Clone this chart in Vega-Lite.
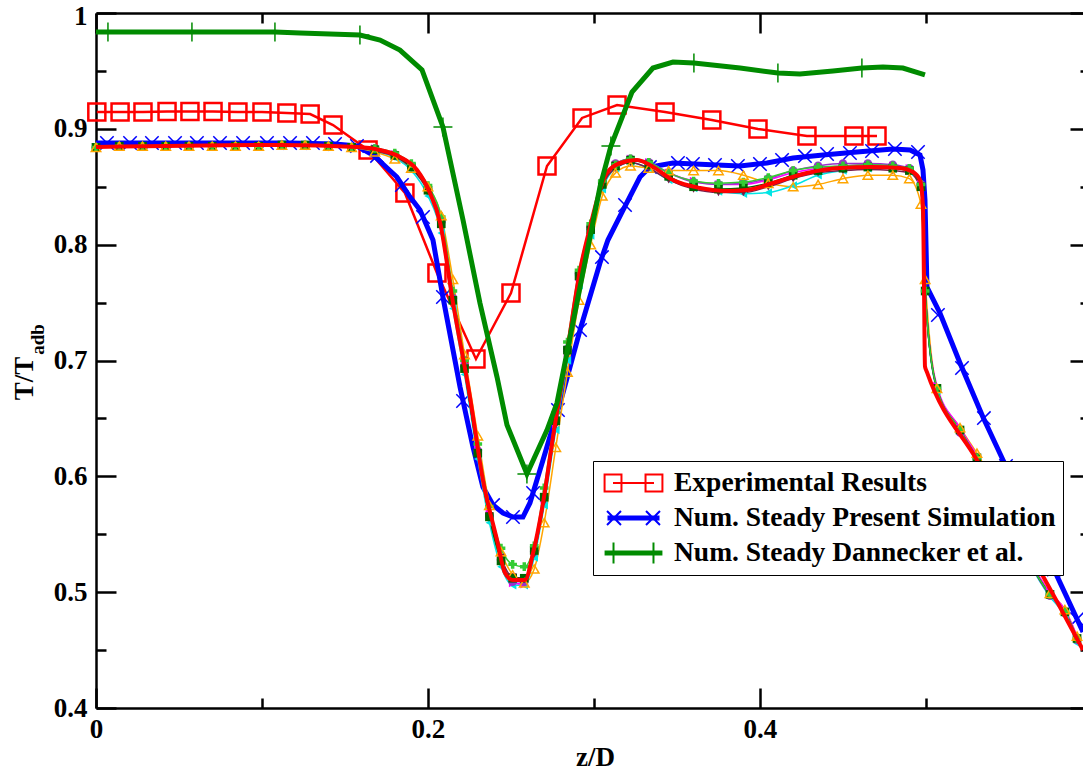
{
"$schema": "https://vega.github.io/schema/vega-lite/v6.json",
"width": 987, "height": 695,
"autosize": "none",
"padding": {"left": 96, "top": 13, "right": 0, "bottom": 65},
"background": "white",
"config": {"view": {"stroke": null}, "font": "Liberation Serif", "axis": {"grid": false}},
"datasets": {
"exp": [
{"series":"Experimental Results","x":0.0005,"y":0.9145},{"series":"Experimental Results","x":0.0145,"y":0.9145},{"series":"Experimental Results","x":0.0283,"y":0.9145},{"series":"Experimental Results","x":0.0428,"y":0.915},{"series":"Experimental Results","x":0.0566,"y":0.915},{"series":"Experimental Results","x":0.0705,"y":0.915},{"series":"Experimental Results","x":0.0855,"y":0.9145},{"series":"Experimental Results","x":0.1,"y":0.9145},{"series":"Experimental Results","x":0.115,"y":0.9137},{"series":"Experimental Results","x":0.129,"y":0.9128},{"series":"Experimental Results","x":0.1428,"y":0.9033},{"series":"Experimental Results","x":0.1639,"y":0.8817},{"series":"Experimental Results","x":0.1861,"y":0.8446},{"series":"Experimental Results","x":0.2054,"y":0.7755},{"series":"Experimental Results","x":0.2289,"y":0.7013},{"series":"Experimental Results","x":0.25,"y":0.7583},{"series":"Experimental Results","x":0.2717,"y":0.8679},{"series":"Experimental Results","x":0.2928,"y":0.9094},{"series":"Experimental Results","x":0.3139,"y":0.9206},{"series":"Experimental Results","x":0.3428,"y":0.9145},{"series":"Experimental Results","x":0.371,"y":0.9076},{"series":"Experimental Results","x":0.3988,"y":0.8999},{"series":"Experimental Results","x":0.4283,"y":0.8938},{"series":"Experimental Results","x":0.4566,"y":0.8938},{"series":"Experimental Results","x":0.4705,"y":0.8938}
],
"pres": [
{"x":0,"y":0.8878},{"x":0.1169,"y":0.8878},{"x":0.144,"y":0.8869},{"x":0.1572,"y":0.8852},{"x":0.1669,"y":0.8774},{"x":0.1813,"y":0.8584},{"x":0.1892,"y":0.8411},{"x":0.1952,"y":0.8299},{"x":0.203,"y":0.804},{"x":0.209,"y":0.7548},{"x":0.2193,"y":0.6771},{"x":0.2271,"y":0.6253},{"x":0.2331,"y":0.5908},{"x":0.2392,"y":0.5752},{"x":0.2452,"y":0.5683},{"x":0.2512,"y":0.5649},{"x":0.2572,"y":0.5649},{"x":0.2614,"y":0.577},{"x":0.2693,"y":0.6141},{"x":0.2813,"y":0.6719},{"x":0.2916,"y":0.7263},{"x":0.3036,"y":0.7842},{"x":0.3084,"y":0.804},{"x":0.3175,"y":0.8299},{"x":0.3277,"y":0.8584},{"x":0.3337,"y":0.867},{"x":0.3476,"y":0.8705},{"x":0.3741,"y":0.8688},{"x":0.388,"y":0.8679},{"x":0.4042,"y":0.8705},{"x":0.4199,"y":0.8748},{"x":0.438,"y":0.8774},{"x":0.4584,"y":0.88},{"x":0.4801,"y":0.8826},{"x":0.4904,"y":0.8817},{"x":0.4964,"y":0.8774},{"x":0.4982,"y":0.8645},{"x":0.4994,"y":0.8386},{"x":0.5006,"y":0.7634},{"x":0.5084,"y":0.741},{"x":0.5205,"y":0.6978},{"x":0.5343,"y":0.6512},{"x":0.5464,"y":0.6141},{"x":0.5946,"y":0.4656}
],
"presm": [
{"x":0.0066,"y":0.8878},{"x":0.0205,"y":0.8878},{"x":0.0337,"y":0.8878},{"x":0.0476,"y":0.8878},{"x":0.0608,"y":0.8878},{"x":0.0747,"y":0.8878},{"x":0.0886,"y":0.8878},{"x":0.103,"y":0.8878},{"x":0.1169,"y":0.8878},{"x":0.1307,"y":0.8878},{"x":0.144,"y":0.8869},{"x":0.1572,"y":0.8852},{"x":0.1693,"y":0.8766},{"x":0.1843,"y":0.8515},{"x":0.197,"y":0.8239},{"x":0.209,"y":0.7548},{"x":0.2211,"y":0.665},{"x":0.2392,"y":0.5752},{"x":0.2512,"y":0.5649},{"x":0.2633,"y":0.5856},{"x":0.2783,"y":0.6573},{"x":0.2916,"y":0.7263},{"x":0.3048,"y":0.7893},{"x":0.3187,"y":0.8342},{"x":0.3337,"y":0.867},{"x":0.3506,"y":0.8705},{"x":0.3596,"y":0.8696},{"x":0.3729,"y":0.8688},{"x":0.3867,"y":0.8679},{"x":0.4,"y":0.8696},{"x":0.4133,"y":0.8731},{"x":0.4271,"y":0.8765},{"x":0.4404,"y":0.8783},{"x":0.4542,"y":0.8791},{"x":0.4675,"y":0.8809},{"x":0.4813,"y":0.8826},{"x":0.4952,"y":0.88},{"x":0.5072,"y":0.7393},{"x":0.5217,"y":0.6935},{"x":0.5349,"y":0.6503},{"x":0.5482,"y":0.6089},{"x":0.5627,"y":0.5639},{"x":0.5771,"y":0.5195},{"x":0.591,"y":0.4767}
],
"dann": [
{"x":0,"y":0.9836},{"x":0.1078,"y":0.9836},{"x":0.1229,"y":0.9827},{"x":0.159,"y":0.981},{"x":0.1711,"y":0.9767},{"x":0.1831,"y":0.968},{"x":0.1964,"y":0.9508},{"x":0.209,"y":0.9016},{"x":0.2211,"y":0.8213},{"x":0.2313,"y":0.7496},{"x":0.2416,"y":0.6857},{"x":0.2476,"y":0.6443},{"x":0.2596,"y":0.602},{"x":0.2717,"y":0.64},{"x":0.2777,"y":0.6633},{"x":0.3036,"y":0.8498},{"x":0.3102,"y":0.8852},{"x":0.3229,"y":0.9318},{"x":0.3355,"y":0.9525},{"x":0.3476,"y":0.9577},{"x":0.3602,"y":0.9568},{"x":0.388,"y":0.9525},{"x":0.4108,"y":0.9482},{"x":0.4241,"y":0.9473},{"x":0.444,"y":0.9499},{"x":0.4614,"y":0.9525},{"x":0.4741,"y":0.9534},{"x":0.4861,"y":0.9525},{"x":0.4994,"y":0.9465}
],
"dannm": [
{"x":0.0072,"y":0.9836},{"x":0.0578,"y":0.9836},{"x":0.1078,"y":0.9836},{"x":0.159,"y":0.981},{"x":0.209,"y":0.9016},{"x":0.2596,"y":0.602},{"x":0.3102,"y":0.8852},{"x":0.3602,"y":0.9568},{"x":0.4108,"y":0.9482},{"x":0.4614,"y":0.9525}
],
"base": [
{"x":0,"y":0.8843},{"x":0.1108,"y":0.886},{"x":0.1572,"y":0.8843},{"x":0.1711,"y":0.8817},{"x":0.1831,"y":0.8757},{"x":0.1934,"y":0.8645},{"x":0.2012,"y":0.8446},{"x":0.2072,"y":0.8196},{"x":0.2151,"y":0.7496},{"x":0.2253,"y":0.6685},{"x":0.2331,"y":0.5968},{"x":0.2416,"y":0.545},{"x":0.2464,"y":0.5165},{"x":0.2512,"y":0.5105},{"x":0.2584,"y":0.5105},{"x":0.2633,"y":0.5338},{"x":0.2693,"y":0.577},{"x":0.2753,"y":0.634},{"x":0.2837,"y":0.7065},{"x":0.2916,"y":0.7781},{"x":0.2976,"y":0.815},{"x":0.3018,"y":0.8386},{"x":0.3078,"y":0.8619},{"x":0.3157,"y":0.8705},{"x":0.3259,"y":0.8731},{"x":0.3337,"y":0.8688},{"x":0.3476,"y":0.8558},{"x":0.3639,"y":0.8489},{"x":0.3801,"y":0.8463},{"x":0.3922,"y":0.8472},{"x":0.4078,"y":0.8532},{"x":0.4283,"y":0.8619},{"x":0.4482,"y":0.8662},{"x":0.4681,"y":0.867},{"x":0.4843,"y":0.8662},{"x":0.4922,"y":0.8627},{"x":0.4964,"y":0.8558},{"x":0.4982,"y":0.8325},{"x":0.4988,"y":0.7669},{"x":0.4994,"y":0.695},{"x":0.5006,"y":0.69},{"x":0.5307,"y":0.6141},{"x":0.5566,"y":0.5493},{"x":0.5807,"y":0.4872},{"x":0.5946,"y":0.45}
],
"oth": [
{"s":"o","x":0,"y":0.884},{"s":"o","x":0.014,"y":0.885},{"s":"o","x":0.028,"y":0.885},{"s":"o","x":0.042,"y":0.885},{"s":"o","x":0.056,"y":0.885},{"s":"o","x":0.07,"y":0.885},{"s":"o","x":0.084,"y":0.885},{"s":"o","x":0.098,"y":0.885},{"s":"o","x":0.112,"y":0.886},{"s":"o","x":0.126,"y":0.886},{"s":"o","x":0.14,"y":0.885},{"s":"o","x":0.154,"y":0.884},
{"s":"o","x":0.168,"y":0.880},{"s":"o","x":0.18,"y":0.874},{"s":"o","x":0.19,"y":0.866},{"s":"o","x":0.2,"y":0.85},{"s":"o","x":0.208,"y":0.825},{"s":"o","x":0.215,"y":0.77},{"s":"o","x":0.222,"y":0.705},{"s":"o","x":0.23,"y":0.635},{"s":"o","x":0.237,"y":0.575},{"s":"o","x":0.244,"y":0.535},{"s":"o","x":0.251,"y":0.515},{"s":"o","x":0.258,"y":0.508},{"s":"o","x":0.264,"y":0.52},{"s":"o","x":0.27,"y":0.56},{"s":"o","x":0.277,"y":0.625},{"s":"o","x":0.284,"y":0.69},{"s":"o","x":0.291,"y":0.752},{"s":"o","x":0.298,"y":0.80},{"s":"o","x":0.305,"y":0.842},{"s":"o","x":0.313,"y":0.862},{"s":"o","x":0.322,"y":0.868},{"s":"o","x":0.333,"y":0.866},{"s":"o","x":0.345,"y":0.864},{"s":"o","x":0.36,"y":0.864},{"s":"o","x":0.375,"y":0.864},{"s":"o","x":0.39,"y":0.86},{"s":"o","x":0.405,"y":0.853},{"s":"o","x":0.42,"y":0.85},{"s":"o","x":0.435,"y":0.852},{"s":"o","x":0.45,"y":0.857},{"s":"o","x":0.465,"y":0.86},{"s":"o","x":0.48,"y":0.86},{"s":"o","x":0.49,"y":0.857},{"s":"o","x":0.497,"y":0.835},{"s":"o","x":0.4995,"y":0.77},{"s":"o","x":0.5066,"y":0.676},{"s":"o","x":0.5205,"y":0.642},{"s":"o","x":0.5307,"y":0.62},{"s":"o","x":0.5747,"y":0.499},{"s":"o","x":0.5837,"y":0.485},{"s":"o","x":0.591,"y":0.462},
{"s":"c","x":0,"y":0.884},{"s":"c","x":0.014,"y":0.885},{"s":"c","x":0.028,"y":0.885},{"s":"c","x":0.042,"y":0.885},{"s":"c","x":0.056,"y":0.885},{"s":"c","x":0.07,"y":0.885},{"s":"c","x":0.084,"y":0.885},{"s":"c","x":0.098,"y":0.885},{"s":"c","x":0.112,"y":0.886},{"s":"c","x":0.126,"y":0.886},{"s":"c","x":0.14,"y":0.885},{"s":"c","x":0.154,"y":0.884},
{"s":"c","x":0.168,"y":0.881},{"s":"c","x":0.18,"y":0.875},{"s":"c","x":0.19,"y":0.864},{"s":"c","x":0.2,"y":0.842},{"s":"c","x":0.208,"y":0.81},{"s":"c","x":0.215,"y":0.745},{"s":"c","x":0.222,"y":0.688},{"s":"c","x":0.23,"y":0.615},{"s":"c","x":0.237,"y":0.56},{"s":"c","x":0.244,"y":0.522},{"s":"c","x":0.251,"y":0.506},{"s":"c","x":0.258,"y":0.506},{"s":"c","x":0.264,"y":0.53},{"s":"c","x":0.27,"y":0.575},{"s":"c","x":0.277,"y":0.64},{"s":"c","x":0.284,"y":0.70},{"s":"c","x":0.291,"y":0.765},{"s":"c","x":0.298,"y":0.808},{"s":"c","x":0.305,"y":0.848},{"s":"c","x":0.313,"y":0.866},{"s":"c","x":0.322,"y":0.871},{"s":"c","x":0.333,"y":0.866},{"s":"c","x":0.345,"y":0.856},{"s":"c","x":0.36,"y":0.849},{"s":"c","x":0.375,"y":0.846},{"s":"c","x":0.39,"y":0.844},{"s":"c","x":0.405,"y":0.845},{"s":"c","x":0.42,"y":0.851},{"s":"c","x":0.435,"y":0.86},{"s":"c","x":0.45,"y":0.864},{"s":"c","x":0.465,"y":0.866},{"s":"c","x":0.48,"y":0.866},{"s":"c","x":0.49,"y":0.863},{"s":"c","x":0.497,"y":0.85},{"s":"c","x":0.4995,"y":0.76},{"s":"c","x":0.5066,"y":0.674},{"s":"c","x":0.5205,"y":0.638},{"s":"c","x":0.5307,"y":0.614},{"s":"c","x":0.5747,"y":0.496},{"s":"c","x":0.5837,"y":0.48},{"s":"c","x":0.591,"y":0.456},
{"s":"m","x":0,"y":0.884},{"s":"m","x":0.014,"y":0.885},{"s":"m","x":0.028,"y":0.885},{"s":"m","x":0.042,"y":0.885},{"s":"m","x":0.056,"y":0.885},{"s":"m","x":0.07,"y":0.885},{"s":"m","x":0.084,"y":0.885},{"s":"m","x":0.098,"y":0.885},{"s":"m","x":0.112,"y":0.886},{"s":"m","x":0.126,"y":0.886},{"s":"m","x":0.14,"y":0.885},{"s":"m","x":0.154,"y":0.884},
{"s":"m","x":0.168,"y":0.883},{"s":"m","x":0.18,"y":0.878},{"s":"m","x":0.19,"y":0.869},{"s":"m","x":0.2,"y":0.85},{"s":"m","x":0.208,"y":0.822},{"s":"m","x":0.215,"y":0.756},{"s":"m","x":0.222,"y":0.697},{"s":"m","x":0.23,"y":0.624},{"s":"m","x":0.237,"y":0.568},{"s":"m","x":0.244,"y":0.528},{"s":"m","x":0.251,"y":0.508},{"s":"m","x":0.258,"y":0.507},{"s":"m","x":0.264,"y":0.535},{"s":"m","x":0.27,"y":0.58},{"s":"m","x":0.277,"y":0.645},{"s":"m","x":0.284,"y":0.707},{"s":"m","x":0.291,"y":0.772},{"s":"m","x":0.298,"y":0.813},{"s":"m","x":0.305,"y":0.853},{"s":"m","x":0.313,"y":0.869},{"s":"m","x":0.322,"y":0.874},{"s":"m","x":0.333,"y":0.871},{"s":"m","x":0.345,"y":0.862},{"s":"m","x":0.36,"y":0.855},{"s":"m","x":0.375,"y":0.852},{"s":"m","x":0.39,"y":0.852},{"s":"m","x":0.405,"y":0.856},{"s":"m","x":0.42,"y":0.862},{"s":"m","x":0.435,"y":0.866},{"s":"m","x":0.45,"y":0.868},{"s":"m","x":0.465,"y":0.869},{"s":"m","x":0.48,"y":0.868},{"s":"m","x":0.49,"y":0.866},{"s":"m","x":0.497,"y":0.852},{"s":"m","x":0.4995,"y":0.76},{"s":"m","x":0.5066,"y":0.678},{"s":"m","x":0.5205,"y":0.642},{"s":"m","x":0.5307,"y":0.618},{"s":"m","x":0.5747,"y":0.5},{"s":"m","x":0.5837,"y":0.485},{"s":"m","x":0.591,"y":0.462},
{"s":"p","x":0,"y":0.884},{"s":"p","x":0.014,"y":0.885},{"s":"p","x":0.028,"y":0.885},{"s":"p","x":0.042,"y":0.885},{"s":"p","x":0.056,"y":0.885},{"s":"p","x":0.07,"y":0.885},{"s":"p","x":0.084,"y":0.885},{"s":"p","x":0.098,"y":0.885},{"s":"p","x":0.112,"y":0.886},{"s":"p","x":0.126,"y":0.886},{"s":"p","x":0.14,"y":0.885},{"s":"p","x":0.154,"y":0.884},
{"s":"p","x":0.168,"y":0.883},{"s":"p","x":0.18,"y":0.878},{"s":"p","x":0.19,"y":0.868},{"s":"p","x":0.2,"y":0.848},{"s":"p","x":0.208,"y":0.82},{"s":"p","x":0.215,"y":0.754},{"s":"p","x":0.222,"y":0.695},{"s":"p","x":0.23,"y":0.622},{"s":"p","x":0.237,"y":0.566},{"s":"p","x":0.244,"y":0.528},{"s":"p","x":0.251,"y":0.509},{"s":"p","x":0.258,"y":0.509},{"s":"p","x":0.264,"y":0.535},{"s":"p","x":0.27,"y":0.582},{"s":"p","x":0.277,"y":0.648},{"s":"p","x":0.284,"y":0.71},{"s":"p","x":0.291,"y":0.775},{"s":"p","x":0.298,"y":0.815},{"s":"p","x":0.305,"y":0.854},{"s":"p","x":0.313,"y":0.87},{"s":"p","x":0.322,"y":0.874},{"s":"p","x":0.333,"y":0.871},{"s":"p","x":0.345,"y":0.862},{"s":"p","x":0.36,"y":0.854},{"s":"p","x":0.375,"y":0.852},{"s":"p","x":0.39,"y":0.853},{"s":"p","x":0.405,"y":0.857},{"s":"p","x":0.42,"y":0.864},{"s":"p","x":0.435,"y":0.868},{"s":"p","x":0.45,"y":0.87},{"s":"p","x":0.465,"y":0.87},{"s":"p","x":0.48,"y":0.869},{"s":"p","x":0.49,"y":0.866},{"s":"p","x":0.497,"y":0.852},{"s":"p","x":0.4995,"y":0.76},{"s":"p","x":0.5066,"y":0.675},{"s":"p","x":0.5205,"y":0.638},{"s":"p","x":0.5307,"y":0.615},{"s":"p","x":0.5747,"y":0.497},{"s":"p","x":0.5837,"y":0.482},{"s":"p","x":0.591,"y":0.459},
{"s":"w","x":0,"y":0.884},{"s":"w","x":0.014,"y":0.885},{"s":"w","x":0.028,"y":0.885},{"s":"w","x":0.042,"y":0.885},{"s":"w","x":0.056,"y":0.885},{"s":"w","x":0.07,"y":0.885},{"s":"w","x":0.084,"y":0.885},{"s":"w","x":0.098,"y":0.885},{"s":"w","x":0.112,"y":0.886},{"s":"w","x":0.126,"y":0.886},{"s":"w","x":0.14,"y":0.885},{"s":"w","x":0.154,"y":0.884},
{"s":"w","x":0.168,"y":0.881},{"s":"w","x":0.18,"y":0.876},{"s":"w","x":0.19,"y":0.866},{"s":"w","x":0.2,"y":0.846},{"s":"w","x":0.208,"y":0.816},{"s":"w","x":0.215,"y":0.75},{"s":"w","x":0.222,"y":0.692},{"s":"w","x":0.23,"y":0.62},{"s":"w","x":0.237,"y":0.566},{"s":"w","x":0.244,"y":0.53},{"s":"w","x":0.251,"y":0.513},{"s":"w","x":0.258,"y":0.512},{"s":"w","x":0.264,"y":0.533},{"s":"w","x":0.27,"y":0.578},{"s":"w","x":0.277,"y":0.644},{"s":"w","x":0.284,"y":0.705},{"s":"w","x":0.291,"y":0.77},{"s":"w","x":0.298,"y":0.81},{"s":"w","x":0.305,"y":0.85},{"s":"w","x":0.313,"y":0.866},{"s":"w","x":0.322,"y":0.871},{"s":"w","x":0.333,"y":0.866},{"s":"w","x":0.345,"y":0.856},{"s":"w","x":0.36,"y":0.848},{"s":"w","x":0.375,"y":0.845},{"s":"w","x":0.39,"y":0.845},{"s":"w","x":0.405,"y":0.85},{"s":"w","x":0.42,"y":0.857},{"s":"w","x":0.435,"y":0.862},{"s":"w","x":0.45,"y":0.864},{"s":"w","x":0.465,"y":0.865},{"s":"w","x":0.48,"y":0.864},{"s":"w","x":0.49,"y":0.862},{"s":"w","x":0.497,"y":0.848},{"s":"w","x":0.4995,"y":0.76},{"s":"w","x":0.5066,"y":0.675},{"s":"w","x":0.5205,"y":0.639},{"s":"w","x":0.5307,"y":0.616},{"s":"w","x":0.5747,"y":0.498},{"s":"w","x":0.5837,"y":0.483},{"s":"w","x":0.591,"y":0.46},
{"s":"g","x":0,"y":0.884},{"s":"g","x":0.014,"y":0.885},{"s":"g","x":0.028,"y":0.885},{"s":"g","x":0.042,"y":0.885},{"s":"g","x":0.056,"y":0.885},{"s":"g","x":0.07,"y":0.885},{"s":"g","x":0.084,"y":0.885},{"s":"g","x":0.098,"y":0.885},{"s":"g","x":0.112,"y":0.886},{"s":"g","x":0.126,"y":0.886},{"s":"g","x":0.14,"y":0.885},{"s":"g","x":0.154,"y":0.884},
{"s":"g","x":0.168,"y":0.882},{"s":"g","x":0.18,"y":0.877},{"s":"g","x":0.19,"y":0.867},{"s":"g","x":0.2,"y":0.847},{"s":"g","x":0.208,"y":0.818},{"s":"g","x":0.215,"y":0.752},{"s":"g","x":0.222,"y":0.693},{"s":"g","x":0.23,"y":0.62},{"s":"g","x":0.237,"y":0.565},{"s":"g","x":0.244,"y":0.527},{"s":"g","x":0.251,"y":0.512},{"s":"g","x":0.258,"y":0.512},{"s":"g","x":0.264,"y":0.536},{"s":"g","x":0.27,"y":0.582},{"s":"g","x":0.277,"y":0.648},{"s":"g","x":0.284,"y":0.709},{"s":"g","x":0.291,"y":0.773},{"s":"g","x":0.298,"y":0.813},{"s":"g","x":0.305,"y":0.852},{"s":"g","x":0.313,"y":0.868},{"s":"g","x":0.322,"y":0.873},{"s":"g","x":0.333,"y":0.869},{"s":"g","x":0.345,"y":0.859},{"s":"g","x":0.36,"y":0.85},{"s":"g","x":0.375,"y":0.848},{"s":"g","x":0.39,"y":0.849},{"s":"g","x":0.405,"y":0.853},{"s":"g","x":0.42,"y":0.86},{"s":"g","x":0.435,"y":0.864},{"s":"g","x":0.45,"y":0.866},{"s":"g","x":0.465,"y":0.867},{"s":"g","x":0.48,"y":0.866},{"s":"g","x":0.49,"y":0.864},{"s":"g","x":0.497,"y":0.85},{"s":"g","x":0.4995,"y":0.76},{"s":"g","x":0.5066,"y":0.676},{"s":"g","x":0.5205,"y":0.64},{"s":"g","x":0.5307,"y":0.616},{"s":"g","x":0.5747,"y":0.498},{"s":"g","x":0.5837,"y":0.483},{"s":"g","x":0.591,"y":0.46},
{"s":"l","x":0,"y":0.884},{"s":"l","x":0.014,"y":0.885},{"s":"l","x":0.028,"y":0.885},{"s":"l","x":0.042,"y":0.885},{"s":"l","x":0.056,"y":0.885},{"s":"l","x":0.07,"y":0.885},{"s":"l","x":0.084,"y":0.885},{"s":"l","x":0.098,"y":0.885},{"s":"l","x":0.112,"y":0.886},{"s":"l","x":0.126,"y":0.886},{"s":"l","x":0.14,"y":0.885},{"s":"l","x":0.154,"y":0.884},
{"s":"l","x":0.168,"y":0.883},{"s":"l","x":0.18,"y":0.879},{"s":"l","x":0.19,"y":0.87},{"s":"l","x":0.2,"y":0.851},{"s":"l","x":0.208,"y":0.824},{"s":"l","x":0.215,"y":0.76},{"s":"l","x":0.222,"y":0.7},{"s":"l","x":0.23,"y":0.628},{"s":"l","x":0.237,"y":0.574},{"s":"l","x":0.244,"y":0.538},{"s":"l","x":0.251,"y":0.524},{"s":"l","x":0.258,"y":0.522},{"s":"l","x":0.264,"y":0.54},{"s":"l","x":0.27,"y":0.59},{"s":"l","x":0.277,"y":0.655},{"s":"l","x":0.284,"y":0.716},{"s":"l","x":0.291,"y":0.778},{"s":"l","x":0.298,"y":0.818},{"s":"l","x":0.305,"y":0.855},{"s":"l","x":0.313,"y":0.869},{"s":"l","x":0.322,"y":0.874},{"s":"l","x":0.333,"y":0.871},{"s":"l","x":0.345,"y":0.862},{"s":"l","x":0.36,"y":0.855},{"s":"l","x":0.375,"y":0.853},{"s":"l","x":0.39,"y":0.854},{"s":"l","x":0.405,"y":0.858},{"s":"l","x":0.42,"y":0.864},{"s":"l","x":0.435,"y":0.867},{"s":"l","x":0.45,"y":0.868},{"s":"l","x":0.465,"y":0.869},{"s":"l","x":0.48,"y":0.868},{"s":"l","x":0.49,"y":0.866},{"s":"l","x":0.497,"y":0.852},{"s":"l","x":0.4995,"y":0.76},{"s":"l","x":0.5066,"y":0.676},{"s":"l","x":0.5205,"y":0.64},{"s":"l","x":0.5307,"y":0.616},{"s":"l","x":0.5747,"y":0.498},{"s":"l","x":0.5837,"y":0.483},{"s":"l","x":0.591,"y":0.46}
]
},
"layer": [
{
"layer": [
{"data": {"name": "exp"},
 "mark": {"type": "line", "color": "#ff0000", "strokeWidth": 2.5},
 "encoding": {
  "x": {"field": "x", "type": "quantitative", "scale": {"domain": [0, 0.5946], "nice": false, "zero": false},
   "axis": {"orient": "bottom", "values": [0, 0.1, 0.2, 0.3, 0.4, 0.5], "format": ".1~f",
    "labelExpr": "round(datum.value*10) % 2 == 0 ? datum.label : ''",
    "tickSize": {"condition": {"test": "round(datum.value*10) % 2 == 0", "value": -20}, "value": -10},
    "tickWidth": 2.5, "tickColor": "black", "domainColor": "black", "domainWidth": 2.5,
    "labelPadding": 28, "labelFlush": false, "labelOverlap": false, "labelBound": false,
    "labelFont": "Liberation Serif", "labelFontWeight": "bold", "labelFontSize": 27, "labelColor": "black",
    "title": "z/D", "titleFont": "Liberation Serif", "titleFontWeight": "bold", "titleFontSize": 27, "titleColor": "black",
    "titleX": 499, "titleY": 57, "titleAlign": "center", "titleBaseline": "alphabetic", "grid": false}},
  "y": {"field": "y", "type": "quantitative", "scale": {"domain": [0.4, 1], "nice": false, "zero": false},
   "axis": {"orient": "left", "values": [0.4, 0.45, 0.5, 0.55, 0.6, 0.65, 0.7, 0.75, 0.8, 0.85, 0.9, 0.95, 1], "format": ".1~f",
    "labelExpr": "round(datum.value*20) % 2 == 0 ? datum.label : ''",
    "tickSize": {"condition": {"test": "round(datum.value*20) % 2 == 0", "value": -20}, "value": -10},
    "labelOffset": {"condition": {"test": "datum.value > 0.99", "value": 3}, "value": 0},
    "tickWidth": 2.5, "tickColor": "black", "domainColor": "black", "domainWidth": 2.5,
    "labelPadding": 29, "labelFlush": false, "labelOverlap": false, "labelBound": false,
    "labelFont": "Liberation Serif", "labelFontWeight": "bold", "labelFontSize": 27, "labelColor": "black",
    "title": "T/T", "titleFont": "Liberation Serif", "titleFontWeight": "bold", "titleFontSize": 27, "titleColor": "black",
    "titleAngle": 270, "titleX": -64, "titleY": 365, "titleAlign": "center", "titleBaseline": "alphabetic", "grid": false}}
 }},
{"data": {"name": "exp"},
 "mark": {"type": "point", "shape": "square", "size": 290, "filled": false, "color": "#ff0000", "strokeWidth": 2.5, "opacity": 1},
 "encoding": {"x": {"field": "x", "type": "quantitative"}, "y": {"field": "y", "type": "quantitative"}}},
{"data": {"name": "pres"},
 "mark": {"type": "line", "color": "#0000ff", "strokeWidth": 5},
 "encoding": {"x": {"field": "x", "type": "quantitative"}, "y": {"field": "y", "type": "quantitative"}}},
{"data": {"name": "presm"},
 "mark": {"type": "point", "shape": "M-1,-1L1,1M-1,1L1,-1", "size": 180, "filled": false, "color": "#0000ff", "strokeWidth": 1.5, "opacity": 1},
 "encoding": {"x": {"field": "x", "type": "quantitative"}, "y": {"field": "y", "type": "quantitative"}}},
{"data": {"name": "oth"},
 "mark": {"type": "line", "strokeWidth": 1.5, "interpolate": "monotone"},
 "encoding": {"x": {"field": "x", "type": "quantitative"}, "y": {"field": "y", "type": "quantitative"},
  "detail": {"field": "s"},
  "color": {"field": "s", "type": "nominal", "legend": null,
   "scale": {"domain": ["o", "c", "m", "p", "w", "g", "l"], "range": ["#ffa500", "#00e5e5", "#ff00ff", "#9932cc", "#7b1c4c", "#006400", "#33cc33"]}}}},
{"data": {"name": "oth"},
 "transform": [{"filter": "datum.s != 'o'"}],
 "mark": {"type": "point", "filled": true, "size": 75, "opacity": 1},
 "encoding": {"x": {"field": "x", "type": "quantitative"}, "y": {"field": "y", "type": "quantitative"},
  "color": {"field": "s", "type": "nominal", "legend": null,
   "scale": {"domain": ["c", "m", "p", "w", "g", "l"], "range": ["#00e5e5", "#ff00ff", "#9932cc", "#7b1c4c", "#006400", "#33cc33"]}},
  "shape": {"field": "s", "type": "nominal", "legend": null,
   "scale": {"domain": ["c", "m", "p", "w", "g", "l"], "range": ["triangle-left", "triangle-right", "circle", "triangle-down", "square", "cross"]}}}},
{"data": {"name": "oth"},
 "transform": [{"filter": "datum.s == 'o'"}],
 "mark": {"type": "point", "shape": "triangle-up", "filled": false, "size": 90, "color": "#ffa500", "strokeWidth": 1.5, "opacity": 1},
 "encoding": {"x": {"field": "x", "type": "quantitative"}, "y": {"field": "y", "type": "quantitative"}}},
{"data": {"name": "base"},
 "mark": {"type": "line", "color": "#ff0000", "strokeWidth": 4, "interpolate": "monotone"},
 "encoding": {"x": {"field": "x", "type": "quantitative"}, "y": {"field": "y", "type": "quantitative"}}},
{"data": {"name": "dann"},
 "mark": {"type": "line", "color": "#008b00", "strokeWidth": 5},
 "encoding": {"x": {"field": "x", "type": "quantitative"}, "y": {"field": "y", "type": "quantitative"}}},
{"data": {"name": "dannm"},
 "mark": {"type": "point", "shape": "M-1,0H1M0,-1V1", "size": 361, "filled": false, "color": "#008b00", "strokeWidth": 1.5, "opacity": 1},
 "encoding": {"x": {"field": "x", "type": "quantitative"}, "y": {"field": "y", "type": "quantitative"}}},
{"data": {"name": "exp"},
 "mark": {"type": "point", "filled": false, "opacity": 0, "strokeWidth": 2},
 "encoding": {"x": {"field": "x", "type": "quantitative"}, "y": {"field": "y", "type": "quantitative"},
  "color": {"field": "series", "type": "nominal",
   "scale": {"domain": ["Experimental Results", "Num. Steady Present Simulation", "Num. Steady Dannecker et al."], "range": ["#ff0000", "#0000ff", "#008b00"]},
   "legend": {"orient": "none", "legendX": 497, "legendY": 448, "title": null, "labelFont": "Liberation Serif", "labelFontWeight": "bold", "labelFontSize": 27.5, "labelColor": "black", "labelLimit": 600,
    "symbolSize": 4225, "symbolStrokeWidth": 2, "symbolOpacity": 1, "clipHeight": 30, "rowPadding": 5, "padding": 7, "labelOffset": 7, "symbolOffset": 0,
    "strokeColor": "black", "fillColor": "white", "cornerRadius": 0}},
  "shape": {"field": "series", "type": "nominal",
   "scale": {"domain": ["Experimental Results", "Num. Steady Present Simulation", "Num. Steady Dannecker et al."],
    "range": ["M-0.63,0H0.63M-0.89,-0.26H-0.37V0.26H-0.89ZM0.37,-0.26H0.89V0.26H0.37Z",
              "M-0.8,-0.046H0.8M-0.8,0H0.8M-0.8,0.046H0.8M-0.815,-0.215L-0.385,0.215M-0.815,0.215L-0.385,-0.215M0.385,-0.215L0.815,0.215M0.385,0.215L0.815,-0.215",
              "M-0.89,-0.046H0.89M-0.89,0H0.89M-0.89,0.046H0.89M-0.615,-0.32V0.32M0.615,-0.32V0.32"]},
   "legend": {"orient": "none", "legendX": 497, "legendY": 448, "title": null, "labelFont": "Liberation Serif", "labelFontWeight": "bold", "labelFontSize": 27.5, "labelColor": "black", "labelLimit": 600,
    "symbolSize": 4225, "symbolStrokeWidth": 2, "symbolOpacity": 1, "clipHeight": 30, "rowPadding": 5, "padding": 7, "labelOffset": 7, "symbolOffset": 0,
    "strokeColor": "black", "fillColor": "white", "cornerRadius": 0}}}}
],
"resolve": {"scale": {"color": "independent", "shape": "independent"}}
},
{"data": {"name": "exp"},
 "mark": {"type": "point", "opacity": 0},
 "encoding": {
  "x": {"field": "x", "type": "quantitative",
   "axis": {"orient": "top", "values": [0, 0.1, 0.2, 0.3, 0.4, 0.5], "labels": false,
    "tickSize": {"condition": {"test": "round(datum.value*10) % 2 == 0", "value": -20}, "value": -10},
    "tickWidth": 2.5, "tickColor": "black", "domainColor": "black", "domainWidth": 2.5, "title": null, "grid": false}},
  "y": {"field": "y", "type": "quantitative",
   "axis": {"orient": "right", "values": [0.4, 0.45, 0.5, 0.55, 0.6, 0.65, 0.7, 0.75, 0.8, 0.85, 0.9, 0.95, 1], "labels": false,
    "tickSize": {"condition": {"test": "round(datum.value*20) % 2 == 0", "value": -13}, "value": -3},
    "tickWidth": 2.5, "tickColor": "black", "domain": false, "grid": false,
    "title": "adb", "titleFont": "Liberation Serif", "titleFontWeight": "bold", "titleFontSize": 19, "titleColor": "black",
    "titleAngle": 270, "titleX": -1040, "titleY": 326, "titleAlign": "center", "titleBaseline": "alphabetic"}}
 }}
],
"resolve": {"axis": {"x": "independent", "y": "independent"}, "scale": {"color": "independent", "shape": "independent"}}
}
